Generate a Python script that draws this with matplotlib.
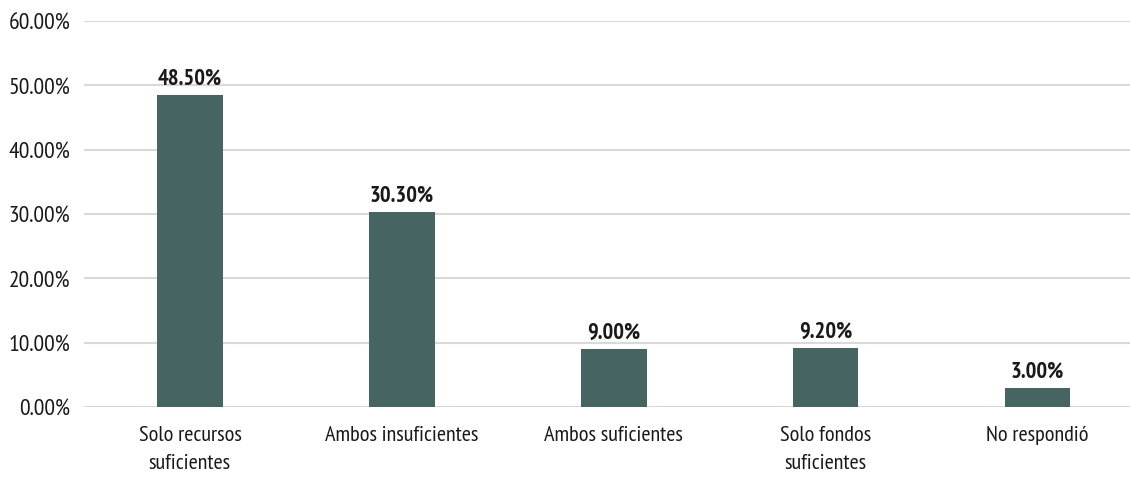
import matplotlib
matplotlib.use("Agg")
import matplotlib.pyplot as plt
from matplotlib import font_manager as fm
from matplotlib.ticker import FuncFormatter, MultipleLocator

categories = ["Solo recursos\nsuficientes", "Ambos insuficientes", "Ambos suficientes",
              "Solo fondos\nsuficientes", "No respondió"]
values = [48.5, 30.3, 9.0, 9.2, 3.0]

available = {f.name for f in fm.fontManager.ttflist}
candidates = ["Myriad Pro Cond", "PT Sans Narrow", "Fira Sans Condensed", "Open Sans Condensed",
              "Asap Condensed", "Roboto Condensed", "Archivo Narrow", "Liberation Sans Narrow"]
family = [c for c in candidates if c in available][:1] + ["DejaVu Sans"]
plt.rcParams['font.family'] = family

fig = plt.figure(figsize=(11.3, 4.81), dpi=100)
ax = fig.add_axes([84/1130, 73/481, 1059.4/1130, 386/481])

x = list(range(len(categories)))
ax.bar(x, values, width=0.31, color="#456462", zorder=3)
for xi, v in zip(x, values):
    ax.annotate(f"{v:.2f}%", xy=(xi, v), xytext=(0, 8), textcoords="offset points",
                ha="center", va="baseline", fontsize=16.3,
                fontweight="bold", color="#1a1a1a")

ax.set_xlim(-0.5, len(categories) - 0.5)
ax.set_ylim(0, 60)
ax.yaxis.set_major_locator(MultipleLocator(10))
ax.yaxis.set_major_formatter(FuncFormatter(lambda v, p: f"{v:.2f}%"))
ax.set_xticks(x)
ax.set_xticklabels(categories, fontsize=16, color="#1a1a1a", linespacing=1.6)
ax.tick_params(axis="y", labelsize=17, labelcolor="#1a1a1a", length=0, pad=10)
ax.tick_params(axis="x", length=0, pad=13)
ax.grid(axis="y", color="#d9d9d9", linewidth=1.5, zorder=0)
for s in ax.spines.values():
    s.set_visible(False)

fig.savefig("out.png", dpi=100)
